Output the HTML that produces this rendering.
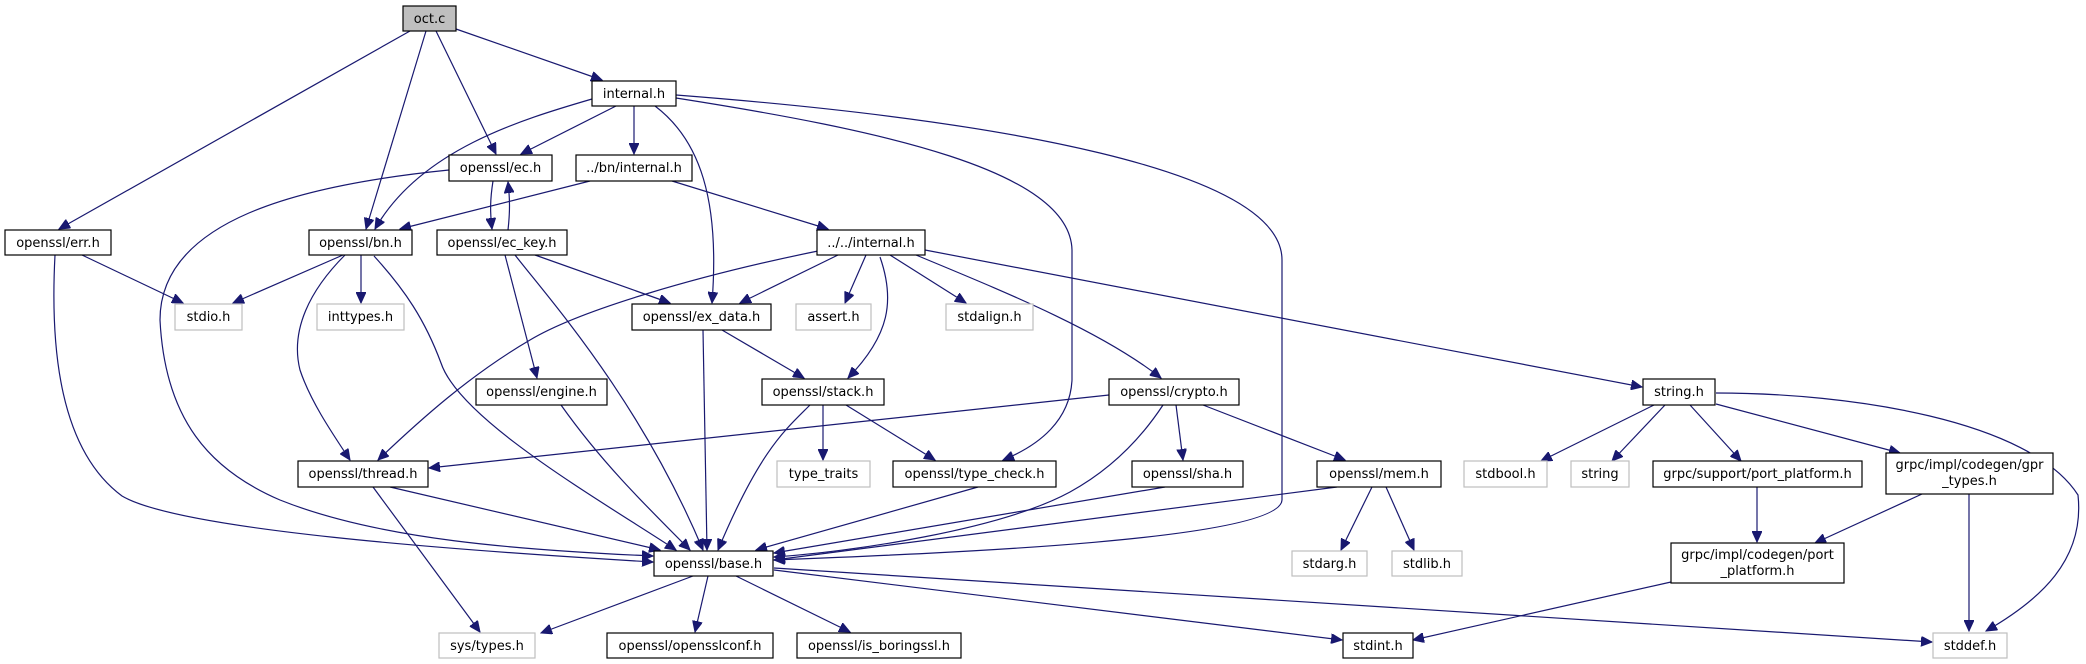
<!DOCTYPE html>
<html><head><meta charset="utf-8"><style>
html,body{margin:0;padding:0;background:#fff}
svg{display:block}
text{font-family:"DejaVu Sans","Liberation Sans",sans-serif;font-size:13px;fill:#000}
.n{fill:#fff;stroke:#000;stroke-width:1.2}
.g{fill:#fff;stroke:#bfbfbf;stroke-width:1.2}
.e{fill:none;stroke:#191970;stroke-width:1.2;marker-end:url(#a)}
</style></head><body>
<svg width="2086" height="664" viewBox="0 0 2086 664" xmlns="http://www.w3.org/2000/svg">
<defs><marker id="a" markerUnits="userSpaceOnUse" markerWidth="12" markerHeight="10" refX="11" refY="5" orient="auto"><path d="M0,0 L11,5 L0,10 z" fill="#191970" stroke="#191970"/></marker></defs>

<!-- edges -->
<path class="e" d="M410,31 L59,229"/>
<path class="e" d="M426,31 L366,229"/>
<path class="e" d="M436,31 L496,154"/>
<path class="e" d="M456,29 L602,80"/>
<path class="e" d="M616,106 L521,154"/>
<path class="e" d="M592,99 C520,120 420,150 375,229"/>
<path class="e" d="M634,106 L634,154"/>
<path class="e" d="M655,106 C700,140 720,200 712,303"/>
<path class="e" d="M676,98 C880,130 1070,170 1072,250 L1072,380 C1070,420 1040,445 1003,460"/>
<path class="e" d="M676,95 C1000,120 1282,170 1282,260 L1282,500 C1280,540 950,553 774,560"/>
<path class="e" d="M493,181 C490,200 490,212 492,229"/>
<path class="e" d="M508,230 C510,212 510,200 508,182"/>
<path class="e" d="M449,170 C300,185 160,220 160,320 C165,420 210,470 280,500 C380,540 520,550 653,556"/>
<path class="e" d="M590,181 L400,229"/>
<path class="e" d="M672,181 L828,229"/>
<path class="e" d="M55,255 C50,350 60,450 122,496 C180,530 450,550 653,562"/>
<path class="e" d="M82,255 L183,303"/>
<path class="e" d="M343,255 L233,303"/>
<path class="e" d="M361,255 L361,303"/>
<path class="e" d="M345,255 C310,290 290,330 300,370 C310,400 330,430 350,460"/>
<path class="e" d="M374,256 C405,290 425,320 441,363 C460,420 600,500 676,550"/>
<path class="e" d="M505,255 L537,378"/>
<path class="e" d="M515,255 C550,300 640,400 703,550"/>
<path class="e" d="M535,255 L670,303"/>
<path class="e" d="M818,251 C700,275 580,310 530,340 C470,375 420,420 378,460"/>
<path class="e" d="M838,255 L740,303"/>
<path class="e" d="M866,255 L845,303"/>
<path class="e" d="M880,257 C895,300 890,335 848,378"/>
<path class="e" d="M890,255 L966,303"/>
<path class="e" d="M916,255 C1000,290 1100,330 1161,378"/>
<path class="e" d="M925,250 L1642,387"/>
<path class="e" d="M722,330 L804,378"/>
<path class="e" d="M703,330 L707,550"/>
<path class="e" d="M561,405 C600,460 640,500 690,550"/>
<path class="e" d="M823,405 L823,460"/>
<path class="e" d="M846,405 L935,460"/>
<path class="e" d="M810,405 C785,430 760,450 718,550"/>
<path class="e" d="M1109,395 L429,468"/>
<path class="e" d="M1163,405 C1140,440 1110,470 1070,492 C1000,530 850,552 774,557"/>
<path class="e" d="M1176,405 L1183,460"/>
<path class="e" d="M1203,405 L1345,460"/>
<path class="e" d="M390,487 L660,550"/>
<path class="e" d="M373,487 L480,632"/>
<path class="e" d="M978,487 L756,550"/>
<path class="e" d="M1165,487 L774,553"/>
<path class="e" d="M1337,487 L774,560"/>
<path class="e" d="M1372,487 L1341,550"/>
<path class="e" d="M1386,487 L1414,550"/>
<path class="e" d="M1654,405 L1541,461"/>
<path class="e" d="M1665,405 L1612,461"/>
<path class="e" d="M1690,405 L1741,461"/>
<path class="e" d="M1716,404 L1900,453"/>
<path class="e" d="M1716,393 C1850,393 2030,420 2078,495 C2085,560 2040,600 1986,631"/>
<path class="e" d="M1757,487 L1757,542"/>
<path class="e" d="M1922,494 L1815,543"/>
<path class="e" d="M1969,494 L1969,631"/>
<path class="e" d="M1671,582 L1413,640"/>
<path class="e" d="M693,576 L541,633"/>
<path class="e" d="M708,576 L695,632"/>
<path class="e" d="M736,576 L850,632"/>
<path class="e" d="M774,570 L1342,640"/>
<path class="e" d="M774,568 L1932,642"/>

<!-- nodes -->
<rect x="403" y="6" width="53" height="25" fill="#bfbfbf" stroke="#000" stroke-width="1.2"/><text x="429.5" y="23" text-anchor="middle">oct.c</text>
<rect class="n" x="592" y="81" width="84" height="25"/><text x="634" y="98" text-anchor="middle">internal.h</text>
<rect class="n" x="449" y="155" width="103" height="26"/><text x="500.5" y="172" text-anchor="middle">openssl/ec.h</text>
<rect class="n" x="576" y="155" width="116" height="26"/><text x="634" y="172" text-anchor="middle">../bn/internal.h</text>
<rect class="n" x="5" y="230" width="106" height="25"/><text x="58" y="247" text-anchor="middle">openssl/err.h</text>
<rect class="n" x="309" y="230" width="103" height="25"/><text x="360.5" y="247" text-anchor="middle">openssl/bn.h</text>
<rect class="n" x="437" y="230" width="130" height="25"/><text x="502" y="247" text-anchor="middle">openssl/ec_key.h</text>
<rect class="n" x="817" y="230" width="108" height="25"/><text x="871" y="247" text-anchor="middle">../../internal.h</text>
<rect class="g" x="175" y="304" width="67" height="26"/><text x="208.5" y="321" text-anchor="middle">stdio.h</text>
<rect class="g" x="317" y="304" width="87" height="26"/><text x="360.5" y="321" text-anchor="middle">inttypes.h</text>
<rect class="n" x="632" y="304" width="139" height="26"/><text x="701.5" y="321" text-anchor="middle">openssl/ex_data.h</text>
<rect class="g" x="796" y="304" width="75" height="26"/><text x="833.5" y="321" text-anchor="middle">assert.h</text>
<rect class="g" x="946" y="304" width="87" height="26"/><text x="989.5" y="321" text-anchor="middle">stdalign.h</text>
<rect class="n" x="476" y="379" width="131" height="26"/><text x="541.5" y="396" text-anchor="middle">openssl/engine.h</text>
<rect class="n" x="762" y="379" width="122" height="26"/><text x="823" y="396" text-anchor="middle">openssl/stack.h</text>
<rect class="n" x="1109" y="379" width="130" height="26"/><text x="1174" y="396" text-anchor="middle">openssl/crypto.h</text>
<rect class="n" x="1643" y="379" width="72" height="26"/><text x="1679" y="396" text-anchor="middle">string.h</text>
<rect class="n" x="298" y="461" width="130" height="26"/><text x="363" y="478" text-anchor="middle">openssl/thread.h</text>
<rect class="g" x="777" y="461" width="93" height="26"/><text x="823.5" y="478" text-anchor="middle">type_traits</text>
<rect class="n" x="893" y="461" width="163" height="26"/><text x="974.5" y="478" text-anchor="middle">openssl/type_check.h</text>
<rect class="n" x="1132" y="461" width="111" height="26"/><text x="1187.5" y="478" text-anchor="middle">openssl/sha.h</text>
<rect class="n" x="1317" y="461" width="124" height="26"/><text x="1379" y="478" text-anchor="middle">openssl/mem.h</text>
<rect class="g" x="1464" y="461" width="83" height="26"/><text x="1505.5" y="478" text-anchor="middle">stdbool.h</text>
<rect class="g" x="1571" y="461" width="58" height="26"/><text x="1600" y="478" text-anchor="middle">string</text>
<rect class="n" x="1653" y="461" width="209" height="26"/><text x="1757.5" y="478" text-anchor="middle">grpc/support/port_platform.h</text>
<rect class="n" x="1886" y="453" width="167" height="41"/><text x="1969.5" y="469" text-anchor="middle">grpc/impl/codegen/gpr</text><text x="1969.5" y="485" text-anchor="middle">_types.h</text>
<rect class="n" x="654" y="551" width="119" height="25"/><text x="713.5" y="568" text-anchor="middle">openssl/base.h</text>
<rect class="g" x="1292" y="551" width="75" height="25"/><text x="1329.5" y="568" text-anchor="middle">stdarg.h</text>
<rect class="g" x="1392" y="551" width="70" height="25"/><text x="1427" y="568" text-anchor="middle">stdlib.h</text>
<rect class="n" x="1671" y="543" width="173" height="40"/><text x="1757.5" y="559" text-anchor="middle">grpc/impl/codegen/port</text><text x="1757.5" y="575" text-anchor="middle">_platform.h</text>
<rect class="g" x="439" y="633" width="96" height="25"/><text x="487" y="650" text-anchor="middle">sys/types.h</text>
<rect class="n" x="607" y="633" width="166" height="25"/><text x="690" y="650" text-anchor="middle">openssl/opensslconf.h</text>
<rect class="n" x="797" y="633" width="164" height="25"/><text x="879" y="650" text-anchor="middle">openssl/is_boringssl.h</text>
<rect class="n" x="1343" y="633" width="70" height="25"/><text x="1378" y="650" text-anchor="middle">stdint.h</text>
<rect class="g" x="1933" y="633" width="74" height="25"/><text x="1970" y="650" text-anchor="middle">stddef.h</text>
</svg>
</body></html>
